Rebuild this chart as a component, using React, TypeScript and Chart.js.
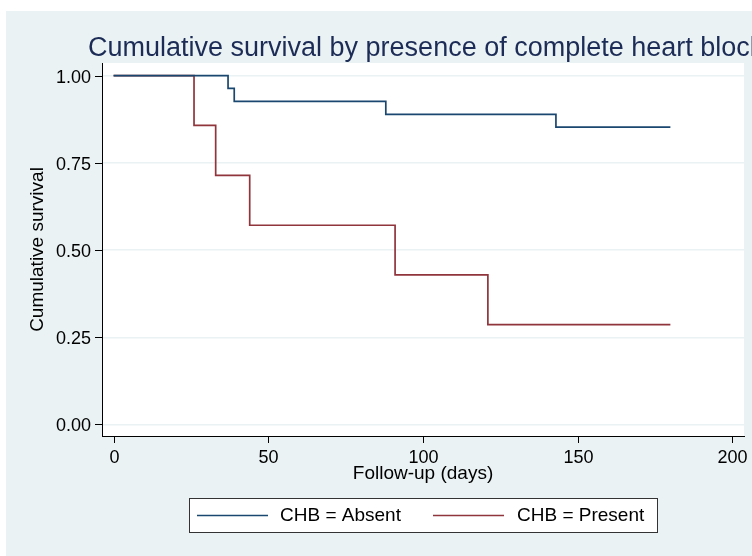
import React, { useEffect, useRef } from "react";
import { Chart, registerables } from "chart.js";

Chart.register(...registerables);

const chartTitle = "Cumulative survival by presence of complete heart block";
const xAxisTitle = "Follow-up (days)";
const yAxisTitle = "Cumulative survival";

const absentLabel = "CHB = Absent";
const absentDays = [0, 37, 39, 88, 143, 180];
const absentSurvival = [1, 0.963, 0.926, 0.889, 0.852, 0.852];

const presentLabel = "CHB = Present";
const presentDays = [0, 26, 33, 44, 91, 121, 180];
const presentSurvival = [1, 0.857, 0.714, 0.571, 0.429, 0.286, 0.286];

const xTickValues = [0, 50, 100, 150, 200];
const xTickLabels = ["0", "50", "100", "150", "200"];
const yTickValues = [0, 0.25, 0.5, 0.75, 1];
const yTickLabels = ["0.00", "0.25", "0.50", "0.75", "1.00"];

const FONT = "'Liberation Sans', Arial, Helvetica, sans-serif";
const BG = "#EAF2F3";
const BLUE = "#1A476F";
const RED = "#90353B";

const decorPlugin = {
  id: "stataDecor",
  beforeDraw(chart: any) {
    const { ctx, chartArea, width, height } = chart;
    ctx.save();
    ctx.fillStyle = "#ffffff";
    ctx.fillRect(0, 0, width, height);
    ctx.fillStyle = BG;
    ctx.fillRect(6, 11, width - 6, height - 11);
    ctx.fillStyle = "#ffffff";
    ctx.fillRect(chartArea.left, chartArea.top, chartArea.right - chartArea.left, chartArea.bottom - chartArea.top);
    ctx.restore();
  },
  afterDraw(chart: any) {
    const { ctx, chartArea } = chart;
    const xs = chart.scales.x;
    const ys = chart.scales.y;
    ctx.save();
    // title
    ctx.fillStyle = "#1C2C56";
    ctx.font = `27px ${FONT}`;
    ctx.textAlign = "left";
    ctx.textBaseline = "alphabetic";
    ctx.fillText(chartTitle, 88, 56);

    // y ticks
    ctx.strokeStyle = "#000";
    ctx.lineWidth = 1;
    ctx.fillStyle = "#000";
    ctx.font = `18px ${FONT}`;
    ctx.textAlign = "right";
    yTickValues.forEach((v, i) => {
      const py = Math.round(ys.getPixelForValue(v)) + 0.5;
      ctx.beginPath();
      ctx.moveTo(chartArea.left - 7, py);
      ctx.lineTo(chartArea.left, py);
      ctx.stroke();
      ctx.fillText(yTickLabels[i], chartArea.left - 11, py + 6);
    });

    // x ticks
    ctx.textAlign = "center";
    xTickValues.forEach((v, i) => {
      const px = Math.round(xs.getPixelForValue(v)) + 0.5;
      ctx.beginPath();
      ctx.moveTo(px, chartArea.bottom);
      ctx.lineTo(px, chartArea.bottom + 7);
      ctx.stroke();
      ctx.fillText(xTickLabels[i], px, chartArea.bottom + 27);
    });

    // axis titles
    ctx.font = `19px ${FONT}`;
    ctx.fillText(xAxisTitle, (chartArea.left + chartArea.right) / 2, 479);
    ctx.save();
    ctx.translate(43, (chartArea.top + chartArea.bottom) / 2);
    ctx.rotate(-Math.PI / 2);
    ctx.fillText(yAxisTitle, 0, 0);
    ctx.restore();

    // legend
    ctx.fillStyle = "#ffffff";
    ctx.fillRect(189.5, 498.5, 468, 34);
    ctx.strokeStyle = "#333";
    ctx.lineWidth = 1;
    ctx.strokeRect(189.5, 498.5, 468, 34);
    const items = chart.data.datasets.map((d: any) => ({ label: d.label, color: d.borderColor }));
    const entries = [
      { x0: 197, x1: 268, tx: 280 },
      { x0: 433, x1: 504, tx: 517 },
    ];
    items.forEach((it: any, i: number) => {
      const e = entries[i];
      ctx.strokeStyle = it.color;
      ctx.lineWidth = 1.6;
      ctx.beginPath();
      ctx.moveTo(e.x0, 515.5);
      ctx.lineTo(e.x1, 515.5);
      ctx.stroke();
      ctx.fillStyle = "#000";
      ctx.font = `19px ${FONT}`;
      ctx.textAlign = "left";
      ctx.fillText(it.label, e.tx, 521);
    });
    ctx.restore();
  },
};

export default function App() {
  const ref = useRef<HTMLCanvasElement | null>(null);
  useEffect(() => {
    if (!ref.current) return;
    const chart = new Chart(ref.current, {
      type: "line",
      data: {
        datasets: [
          {
            label: absentLabel,
            data: absentDays.map((d, i) => ({ x: d, y: absentSurvival[i] })),
            borderColor: BLUE,
            backgroundColor: BLUE,
            borderWidth: 1.7,
            pointRadius: 0,
            stepped: "before",
            fill: false,
          },
          {
            label: presentLabel,
            data: presentDays.map((d, i) => ({ x: d, y: presentSurvival[i] })),
            borderColor: RED,
            backgroundColor: RED,
            borderWidth: 1.7,
            pointRadius: 0,
            stepped: "before",
            fill: false,
          },
        ],
      },
      options: {
        responsive: false,
        animation: false,
        devicePixelRatio: 1,
        layout: { padding: { left: 102, top: 63, right: 8, bottom: 120 } },
        plugins: {
          legend: { display: false },
          title: { display: false },
          tooltip: { enabled: false },
        },
        scales: {
          x: {
            type: "linear",
            min: -3.75,
            max: 203.8,
            ticks: { display: false },
            grid: { display: false, drawTicks: false },
            border: { display: true, color: "#000", width: 1 },
            afterBuildTicks: (s: any) => {
              s.ticks = xTickValues.map((v) => ({ value: v }));
            },
          },
          y: {
            type: "linear",
            min: -0.033,
            max: 1.036,
            ticks: { display: false },
            grid: { display: true, drawTicks: false, color: BG, lineWidth: 1.5 },
            border: { display: true, color: "#000", width: 1 },
            afterBuildTicks: (s: any) => {
              s.ticks = yTickValues.map((v) => ({ value: v }));
            },
          },
        },
      },
      plugins: [decorPlugin],
    } as any);
    return () => chart.destroy();
  }, []);
  return (
    <div style={{ position: "fixed", left: 0, top: 0, width: 752, height: 556 }}>
      <canvas ref={ref} width={752} height={556} style={{ display: "block", width: 752, height: 556 }} />
    </div>
  );
}
